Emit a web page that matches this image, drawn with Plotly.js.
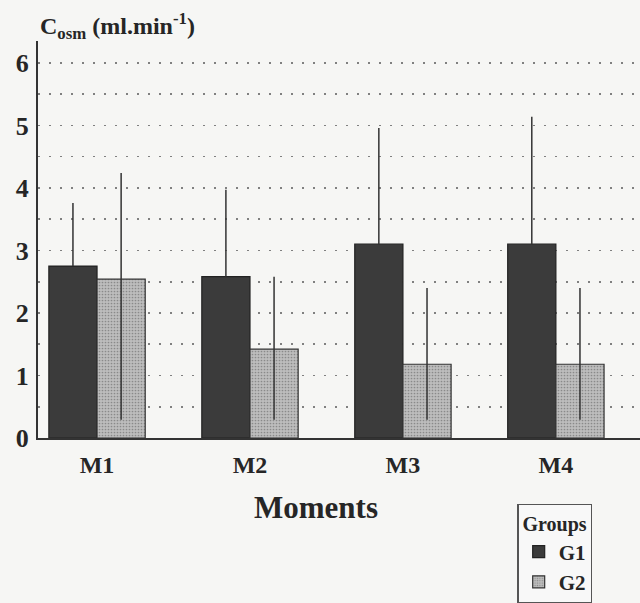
<!DOCTYPE html>
<html>
<head>
<meta charset="utf-8">
<script src="https://cdn.plot.ly/plotly-3.0.1.min.js"></script>
<style>html,body{margin:0;padding:0;background:#f6f6f4;}#chart{width:640px;height:603px;}</style>
</head>
<body>
<div id="chart"></div>
<script>
const categories = ['M1', 'M2', 'M3', 'M4'];
const g1Values = [2.75, 2.58, 3.10, 3.10];
const g1ErrUp = [1.01, 1.39, 1.86, 2.04];
const g1ErrDown = [0, 0, 0, 0];
const g2Values = [2.54, 1.42, 1.18, 1.18];
const g2ErrUp = [1.70, 1.16, 1.22, 1.22];
const g2ErrDown = [2.25, 1.13, 0.89, 0.89];
const yTicks = [0, 1, 2, 3, 4, 5, 6];

const serif = 'Liberation Serif, Times New Roman, serif';
const ink = '#262626';
const dots = '2px,9px';

const traces = [
  {
    type: 'bar', name: 'G1', x: categories, y: g1Values,
    marker: {color: '#3b3b3b', line: {color: '#222', width: 1.2}},
    error_y: {type: 'data', symmetric: false, array: g1ErrUp, arrayminus: g1ErrDown,
              color: '#333', thickness: 1.5, width: 0}
  },
  {
    type: 'bar', name: 'G2', x: categories, y: g2Values,
    marker: {color: '#b3b3b3', line: {color: '#333', width: 1.2},
             pattern: {shape: '.', size: 3, solidity: 0.25, fgcolor: '#8a8a8a', bgcolor: '#bdbdbd'}},
    error_y: {type: 'data', symmetric: false, array: g2ErrUp, arrayminus: g2ErrDown,
              color: '#333', thickness: 1.5, width: 0}
  }
];

const layout = {
  width: 640, height: 603,
  paper_bgcolor: '#f6f6f4', plot_bgcolor: '#f6f6f4',
  margin: {l: 38, r: 0, t: 41, b: 165, autoexpand: false},
  barmode: 'group', bargap: 0.37, bargroupgap: 0,
  showlegend: true,
  font: {family: serif, color: ink},
  xaxis: {
    type: 'category', range: [-0.386, 3.55],
    showline: true, linecolor: '#333', linewidth: 2,
    ticks: '', showgrid: false,
    tickfont: {family: serif, size: 24, weight: 'bold', color: ink},
    ticklabelstandoff: 4
  },
  yaxis: {
    range: [0, 6.35], tickvals: yTicks, ticktext: yTicks.map(String),
    showline: true, linecolor: '#333', linewidth: 2,
    zeroline: false, ticks: '',
    showgrid: true, gridcolor: '#808080', griddash: dots, gridwidth: 1.6,
    minor: {dtick: 0.5, showgrid: true, gridcolor: '#808080', griddash: dots, gridwidth: 1.6},
    tickfont: {family: serif, size: 26, weight: 'bold', color: ink},
    ticklabelstandoff: 2
  },
  annotations: [
    {
      xref: 'paper', yref: 'paper', x: 0.0, y: 1.037, xanchor: 'left', yanchor: 'middle',
      text: 'C<sub>osm</sub> (ml.min<sup>-1</sup>)', showarrow: false,
      font: {family: serif, size: 24, weight: 'bold', color: ink}
    },
    {
      xref: 'paper', yref: 'paper', x: 0.462, y: -0.175, xanchor: 'center', yanchor: 'middle',
      text: 'Moments', showarrow: false,
      font: {family: serif, size: 31, weight: 'bold', color: ink}
    }
  ],
  legend: {
    x: 0.796, y: -0.166, xanchor: 'left', yanchor: 'top',
    bgcolor: '#f8f8f8', bordercolor: '#555', borderwidth: 1.5,
    title: {text: 'Groups', side: 'top center', font: {family: serif, size: 20, weight: 'bold', color: ink}},
    font: {family: serif, size: 21, weight: 'bold', color: ink},
    itemwidth: 30, tracegroupgap: 0
  }
};

Plotly.newPlot('chart', traces, layout, {displayModeBar: false, staticPlot: true});
</script>
</body>
</html>
